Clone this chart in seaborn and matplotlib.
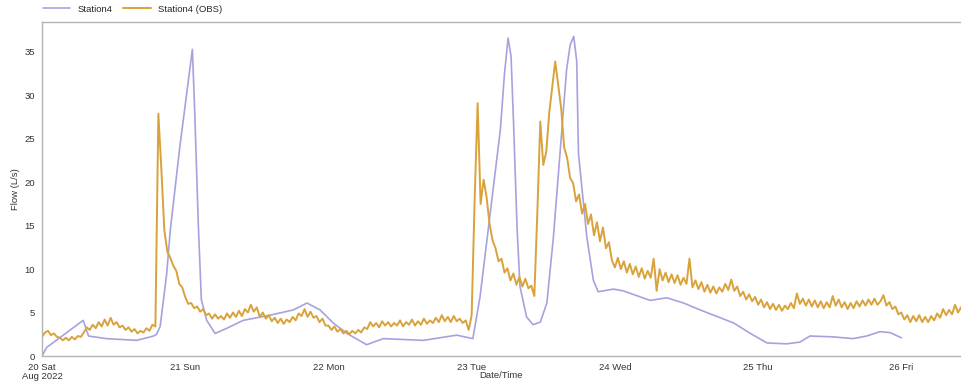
import numpy as np
import pandas as pd
import matplotlib
matplotlib.use("Agg")
import matplotlib.pyplot as plt
import seaborn as sns

# --- Data --------------------------------------------------------------------
start = pd.Timestamp("2022-08-20 00:00")

# Modelled flow (Station4): hours since start, flow in L/s
model_hours = [0, 0.8, 1.6, 6.9, 7.8, 10.8, 15.9, 18.7, 19.2, 19.8,
               20.9, 21.5, 23.1, 25.2, 25.6, 26.2, 26.7, 27.6, 29.0, 31.0,
               33.7, 38.2, 42.1, 44.4, 46.6, 48.8, 51.1, 54.4, 57.2, 63.9,
               69.5, 72.2, 73.4, 75.1, 76.8, 77.5, 78.1, 78.6, 79.0, 79.6,
               80.1, 81.2, 82.3, 83.5, 84.6, 85.7, 86.8, 87.9, 88.5, 89.1, 89.6,
               89.9, 91.3, 92.4, 93.2, 95.8, 97.4, 101.9, 104.7, 107.5, 110.3,
               115.9, 118.7, 121.5, 124.8, 127.0, 128.7, 132.6, 135.9, 138.2, 140.4,
               142.1, 144.0]
model_flow = [0, 1.0, 1.4, 4.1, 2.3, 2.0, 1.8, 2.3, 2.5, 3.4,
              9.5, 14.5, 24.1, 35.3, 28.0, 15.0, 6.5, 4.1, 2.6, 3.2,
              4.1, 4.7, 5.3, 6.1, 5.3, 3.8, 2.6, 1.3, 2.0, 1.8,
              2.4, 2.0, 6.8, 16.4, 26.0, 32.5, 36.6, 34.5, 27.2, 14.9,
              8.0, 4.5, 3.6, 3.9, 6.1, 13.7, 23.3, 32.9, 35.8, 36.8, 34.0,
              23.3, 13.7, 8.7, 7.4, 7.7, 7.5, 6.4, 6.7, 6.1, 5.3,
              3.8, 2.6, 1.5, 1.4, 1.6, 2.3, 2.2, 2.0, 2.3, 2.8,
              2.7, 2.1]

# Observed flow (Station4 OBS): 30-minute readings, one list per day
obs_aug20 = [2.2, 2.7, 2.9, 2.4, 2.6, 2.2, 2.1, 1.8, 2.1, 1.8,
             2.2, 1.9, 2.3, 2.2, 2.7, 3.3, 3.0, 3.6, 3.2, 3.9,
             3.4, 4.2, 3.5, 4.4, 3.6, 3.9, 3.3, 3.5, 3.0, 3.3,
             2.8, 3.1, 2.6, 2.9, 2.7, 3.2, 2.9, 3.6, 3.4, 27.9,
             21.5, 14.5, 12.0, 11.3, 10.4, 9.8, 8.3, 7.9]
obs_aug21 = [6.8, 6.0, 6.1, 5.5, 5.7, 5.1, 5.4, 4.7, 4.9, 4.3,
             4.8, 4.3, 4.6, 4.2, 4.9, 4.4, 5.0, 4.5, 5.2, 4.6,
             5.4, 5.0, 5.9, 5.1, 5.6, 4.5, 5.0, 4.3, 4.7, 4.0,
             4.4, 3.8, 4.3, 3.7, 4.2, 3.9, 4.5, 4.1, 4.9, 4.6,
             5.4, 4.5, 5.1, 4.4, 4.6, 3.9, 4.3, 3.5]
obs_aug22 = [3.5, 3.0, 3.4, 2.8, 3.1, 2.6, 2.9, 2.5, 2.9, 2.6,
             3.0, 2.7, 3.3, 3.1, 3.9, 3.4, 3.8, 3.3, 4.0, 3.5,
             3.9, 3.4, 3.8, 3.5, 4.1, 3.4, 3.9, 3.6, 4.2, 3.5,
             4.0, 3.6, 4.3, 3.7, 4.1, 3.8, 4.4, 3.9, 4.7, 4.0,
             4.5, 3.9, 4.6, 4.0, 4.3, 3.8, 4.1, 3.0]
obs_aug23 = [4.7, 18.0, 29.1, 17.5, 20.3, 18.3, 15.2, 13.3, 12.4, 10.9,
             11.2, 9.6, 10.1, 8.7, 9.5, 8.2, 9.1, 8.0, 8.9, 7.8,
             8.1, 6.9, 16.4, 27.0, 22.0, 23.5, 28.0, 31.0, 33.9, 31.2,
             28.5, 24.0, 22.8, 20.5, 19.9, 17.8, 18.6, 16.4, 17.5, 15.2,
             16.3, 13.9, 15.4, 13.2, 14.8, 12.4, 13.1, 11.0]
obs_aug24 = [10.2, 11.3, 10.0, 10.9, 9.6, 10.6, 9.4, 10.3, 9.1, 10.1,
             8.9, 9.8, 9.0, 11.2, 7.5, 10.0, 8.7, 9.6, 8.5, 9.4,
             8.4, 9.3, 8.2, 9.0, 8.3, 11.2, 7.9, 8.7, 7.7, 8.5,
             7.4, 8.2, 7.3, 8.0, 7.2, 7.9, 7.4, 8.3, 7.6, 8.8,
             7.5, 8.0, 6.9, 7.4, 6.5, 7.1, 6.3, 6.8]
obs_aug25 = [5.9, 6.5, 5.6, 6.2, 5.4, 6.0, 5.3, 5.9, 5.2, 5.8,
             5.4, 6.1, 5.5, 7.2, 6.0, 6.6, 5.8, 6.5, 5.7, 6.4,
             5.6, 6.3, 5.5, 6.2, 5.6, 6.9, 5.8, 6.5, 5.6, 6.2,
             5.4, 6.1, 5.5, 6.3, 5.7, 6.4, 5.8, 6.5, 5.9, 6.6,
             5.9, 6.3, 7.0, 5.8, 6.2, 5.4, 5.7, 4.8]
obs_aug26 = [5.0, 4.2, 4.7, 3.9, 4.6, 4.0, 4.7, 3.9, 4.5, 3.9,
             4.6, 4.1, 4.9, 4.4, 5.4, 4.7, 5.3, 4.8, 5.9, 5.0,
             5.6]

tick_labels = ["20 Sat\nAug 2022", "21 Sun", "22 Mon", "23 Tue",
               "24 Wed", "25 Thu", "26 Fri"]

# --- Build frames -------------------------------------------------------------
model_df = pd.DataFrame({
    "time": start + pd.to_timedelta(model_hours, unit="h"),
    "flow": model_flow,
})

obs_flow = obs_aug20 + obs_aug21 + obs_aug22 + obs_aug23 + obs_aug24 + obs_aug25 + obs_aug26
obs_df = pd.DataFrame({
    "time": pd.date_range(start, periods=len(obs_flow), freq="30min"),
    "flow": obs_flow,
})

# --- Plot ---------------------------------------------------------------------
sns.set_style("white")
plt.rcParams["font.family"] = ["Liberation Sans", "DejaVu Sans"]
fs = 6.8

fig = plt.figure(figsize=(9.61, 3.83), dpi=100)
ax = fig.add_axes([42 / 961, 27 / 383, 919 / 961, 334 / 383])

sns.lineplot(data=model_df, x="time", y="flow", ax=ax, color="#a7a2df",
             linewidth=1.2, label="Station4", estimator=None, sort=False)
sns.lineplot(data=obs_df, x="time", y="flow", ax=ax, color="#d9a23a",
             linewidth=1.4, label="Station4 (OBS)", estimator=None, sort=False)

ax.set_xlim(start, start + pd.Timedelta(hours=154))
ax.set_ylim(0, 38.45)

day_ticks = pd.date_range(start, periods=len(tick_labels), freq="D")
ax.set_xticks(day_ticks)
ax.set_xticklabels(tick_labels, linespacing=1.0)
ax.set_yticks(np.arange(0, 40, 5))

ax.tick_params(axis="x", direction="out", length=4, width=0.8, color="#9a9a9a",
               labelsize=fs, labelcolor="#333333", pad=1)
ax.tick_params(axis="y", direction="inout", length=8, width=0.8, color="#9a9a9a",
               labelsize=fs, labelcolor="#333333", pad=1)

for side in ["left", "bottom", "top"]:
    ax.spines[side].set_color("#b4b4b4")
    ax.spines[side].set_linewidth(1.0)
ax.spines["right"].set_visible(False)

ax.set_xlabel("Date/Time", fontsize=fs, color="#333333", labelpad=-7)
ax.set_ylabel("Flow (L/s)", fontsize=fs, color="#333333", labelpad=3)

ax.legend(loc="lower left", bbox_to_anchor=(0.0, 1.022), ncol=2, frameon=False,
          fontsize=fs, handlelength=2.9, handletextpad=0.8, columnspacing=1.1,
          borderaxespad=0, borderpad=0.1)

fig.savefig("out.png", dpi=100)
